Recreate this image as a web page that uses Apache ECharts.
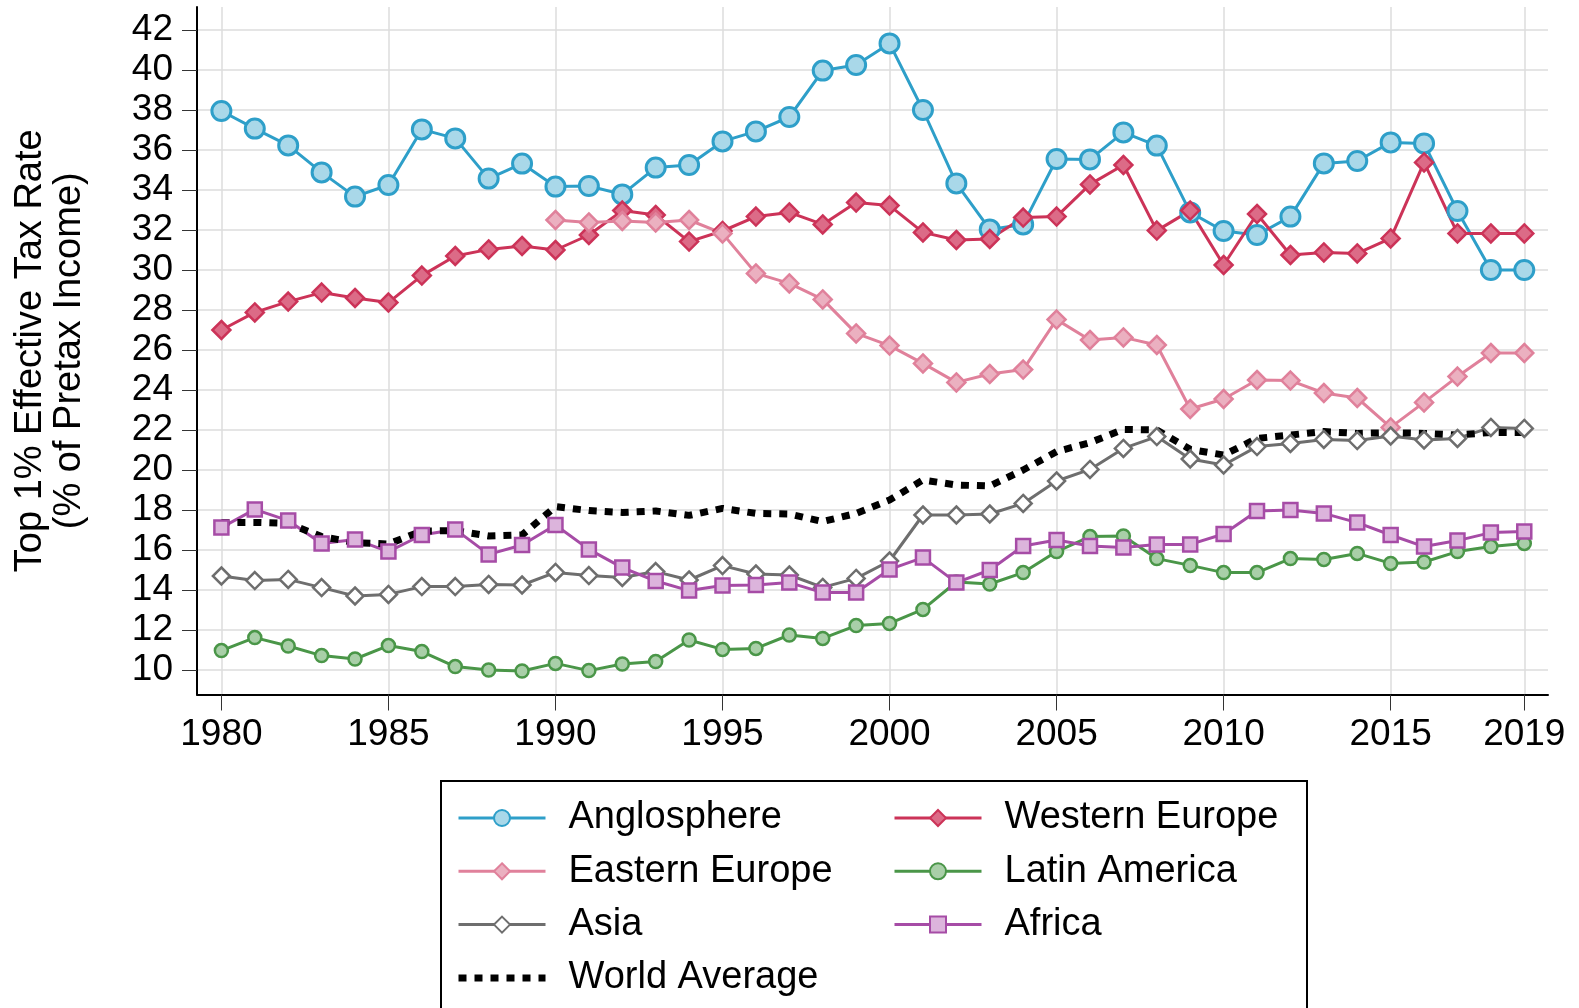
<!DOCTYPE html>
<html>
<head>
<meta charset="utf-8">
<script src="https://cdn.jsdelivr.net/npm/echarts@6/dist/echarts.min.js"></script>
<style>
html,body{margin:0;padding:0;background:#fff;}
#chart{width:1579px;height:1008px;}
</style>
</head>
<body>
<div id="chart"></div>
<script>
const years = [1980,1981,1982,1983,1984,1985,1986,1987,1988,1989,
               1990,1991,1992,1993,1994,1995,1996,1997,1998,1999,
               2000,2001,2002,2003,2004,2005,2006,2007,2008,2009,
               2010,2011,2012,2013,2014,2015,2016,2017,2018,2019];

const anglosphere = [37.95,37.07,36.23,34.88,33.67,34.25,37.03,36.58,34.57,35.32,
                     34.17,34.2,33.78,35.12,35.25,36.43,36.93,37.65,39.97,40.25,
                     41.33,38.0,34.33,32.03,32.28,35.55,35.53,36.88,36.22,32.88,
                     31.95,31.75,32.67,35.33,35.45,36.38,36.33,32.95,30.0,30.0];
const westernEurope = [27.0,27.88,28.42,28.87,28.6,28.37,29.72,30.7,31.03,31.2,
                       31.0,31.75,32.97,32.75,31.42,31.95,32.67,32.88,32.28,33.37,
                       33.22,31.88,31.5,31.55,32.62,32.67,34.28,35.25,31.97,32.97,
                       30.25,32.8,30.75,30.88,30.83,31.58,35.38,31.83,31.83,31.83];
const easternEurope = [null,null,null,null,null,null,null,null,null,null,
                       32.5,32.38,32.45,32.38,32.5,31.83,29.83,29.33,28.53,26.83,
                       26.22,25.33,24.38,24.8,25.02,27.52,26.5,26.63,26.25,23.05,
                       23.55,24.5,24.47,23.85,23.6,22.13,23.38,24.67,25.85,25.85];
const latinAmerica = [10.97,11.62,11.2,10.72,10.55,11.22,10.92,10.17,10.0,9.95,
                      10.33,9.97,10.3,10.42,11.5,11.03,11.08,11.75,11.58,12.22,
                      12.33,13.03,14.4,14.3,14.87,15.92,16.67,16.7,15.57,15.23,
                      14.87,14.87,15.57,15.53,15.83,15.33,15.4,15.92,16.17,16.33];
const asia = [14.7,14.47,14.53,14.12,13.7,13.78,14.17,14.17,14.28,14.25,
              14.88,14.72,14.63,14.92,14.5,15.22,14.8,14.75,14.13,14.58,
              15.45,17.75,17.75,17.8,18.33,19.45,20.03,21.08,21.67,20.55,
              20.25,21.17,21.33,21.53,21.47,21.7,21.5,21.58,22.13,22.08];
const africa = [17.12,18.03,17.47,16.33,16.53,15.92,16.75,17.03,15.78,16.25,
                17.25,16.03,15.12,14.45,13.97,14.22,14.25,14.37,13.87,13.88,
                15.03,15.62,14.37,15.0,16.2,16.5,16.2,16.13,16.28,16.28,
                16.8,17.95,18.0,17.83,17.37,16.75,16.17,16.47,16.87,16.92];
const worldAverage = [17.38,17.38,17.33,16.67,16.37,16.3,16.95,16.97,16.7,16.75,
                      18.17,17.97,17.88,17.95,17.73,18.08,17.83,17.8,17.42,17.83,
                      18.5,19.5,19.25,19.2,20.0,20.92,21.37,22.03,22.0,21.03,
                      20.75,21.58,21.75,21.92,21.83,21.87,21.83,21.75,21.88,21.88];

const xTickLabels = [1980,1985,1990,1995,2000,2005,2010,2015,2019];
const yTickLabels = [10,12,14,16,18,20,22,24,26,28,30,32,34,36,38,40,42];

const FONT = '"Liberation Sans", Arial, Helvetica, sans-serif';

function pairs(arr){ return years.map((y,i)=>[y, arr[i]]); }

function lineSeries(name, arr, color, fill, symbol, size, bw){
  return {
    name: name, type: 'line', data: pairs(arr),
    symbol: symbol, symbolSize: size, showSymbol: true,
    connectNulls: false,
    lineStyle: {color: color, width: 3},
    itemStyle: {color: fill, borderColor: color, borderWidth: bw, opacity: 1},
    emphasis: {disabled: true},
    animation: false
  };
}

const chart = echarts.init(document.getElementById('chart'), null, {renderer: 'canvas'});

const legendCommon = {
  orient: 'vertical', top: 798, padding: 0,
  itemWidth: 87, itemHeight: 20, itemGap: 13.3,
  selectedMode: false,
  lineStyle: {width: 'inherit', type: 'inherit', color: 'inherit'},
  textStyle: {fontSize: 38, lineHeight: 40, color: '#000', fontFamily: FONT, padding: [0,0,0,18]}
};

chart.setOption({
  backgroundColor: '#ffffff',
  animation: false,
  textStyle: {fontFamily: FONT},
  grid: {left: 197, right: 31, top: 7, bottom: 313.5, containLabel: false, outerBoundsMode: 'none'},
  graphic: [{
    type: 'rect', left: 440, top: 780, z: -1,
    shape: {width: 866, height: 240},
    style: {fill: '#fff', stroke: '#000', lineWidth: 2}
  }],
  legend: [
    Object.assign({}, legendCommon, {left: 455, data: ['Anglosphere','Eastern Europe','Asia','World Average']}),
    Object.assign({}, legendCommon, {left: 893, data: ['Western Europe','Latin America','Africa']})
  ],
  xAxis: {
    type: 'value', min: 1979.27, max: 2019.71,
    axisLine: {show: true, lineStyle: {color: '#000', width: 2}},
    axisTick: {show: true, length: 16, lineStyle: {color: '#333', width: 1}, customValues: xTickLabels},
    axisLabel: {show: true, customValues: xTickLabels, margin: 22, fontSize: 37, color: '#000', fontFamily: FONT,
                formatter: v => String(v)},
    splitLine: {show: true, lineStyle: {color: '#dcdcdc', width: 1.5}}
  },
  yAxis: {
    type: 'value', min: 8.775, max: 43.15,
    name: 'Top 1% Effective Tax Rate\n(% of Pretax Income)',
    nameLocation: 'middle', nameRotate: 90, nameGap: 108,
    nameTextStyle: {fontSize: 38, lineHeight: 39, color: '#000', fontFamily: FONT, align: 'center'},
    axisLine: {show: true, lineStyle: {color: '#000', width: 2}},
    axisTick: {show: true, length: 15, lineStyle: {color: '#333', width: 1}, customValues: yTickLabels},
    axisLabel: {show: true, customValues: yTickLabels, margin: 24, fontSize: 37, color: '#000', fontFamily: FONT},
    splitLine: {show: true, lineStyle: {color: '#dcdcdc', width: 1.5}}
  },
  series: [
    lineSeries('Anglosphere', anglosphere, '#2e9fc9', '#a9d8e9', 'circle', 19, 3),
    lineSeries('Western Europe', westernEurope, '#cc3358', '#dc6b87', 'diamond', 18, 2.5),
    lineSeries('Eastern Europe', easternEurope, '#e0819b', '#ebb0c0', 'diamond', 18, 2.5),
    lineSeries('Latin America', latinAmerica, '#4a9648', '#a9cfa8', 'circle', 13, 2.5),
    lineSeries('Asia', asia, '#6e6e6e', '#ffffff', 'diamond', 17, 2.5),
    lineSeries('Africa', africa, '#a64ca6', '#dcb4dc', 'rect', 14, 2.5),
    {
      name: 'World Average', type: 'line', data: pairs(worldAverage),
      symbol: 'rect', showSymbol: false, symbolSize: 1,
      lineStyle: {color: '#000', width: 7, type: [8, 8], cap: 'butt'},
      itemStyle: {color: 'rgba(0,0,0,0)', borderWidth: 0},
      emphasis: {disabled: true},
      animation: false, z: 3
    }
  ]
});
</script>
</body>
</html>
